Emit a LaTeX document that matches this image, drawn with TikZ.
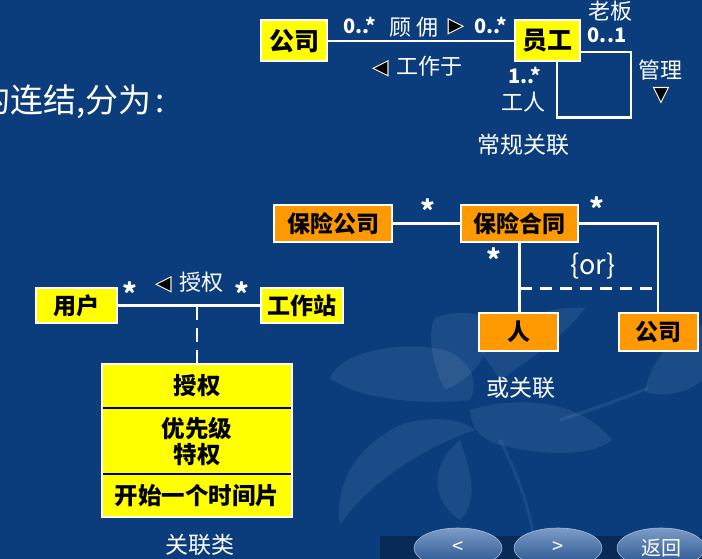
\documentclass[tikz,border=0pt]{standalone}
\usepackage{fontspec}
\setmainfont{Noto Sans CJK SC}
\newfontfamily\symfont{DejaVu Sans}
\usetikzlibrary{calc,shapes.geometric}

\definecolor{slide}{HTML}{0B3D7D}
\definecolor{boxyellow}{HTML}{FFFF00}
\definecolor{boxorange}{HTML}{FF9900}
\definecolor{petal}{HTML}{9DB9D6}
\definecolor{btntop}{HTML}{7C9CC8}
\definecolor{btnbot}{HTML}{23508C}

% outlined triangles: black body, thin white rim
\newcommand\triR{{\symfont\rlap{\color{black}▶}\color{white}▷}}
\newcommand\triL{{\symfont\rlap{\color{black}◀}\color{white}◁}}
\newcommand\triD{{\symfont\rlap{\color{black}▼}\color{white}▽}}

\tikzset{
  x=1pt, y=-1pt,
  box/.style={draw=white, line width=2pt, inner sep=0pt, text=black,
              font=\bfseries\fontsize{23}{25}\selectfont},
  ybox/.style={box, fill=boxyellow},
  obox/.style={box, fill=boxorange},
  bigbox/.style={font=\bfseries\fontsize{25}{27}\selectfont},
  clspart/.style={fill=boxyellow, inner sep=0pt, minimum width=190pt, text=black,
              align=center, font=\bfseries\fontsize{23.5}{26}\selectfont},
  conn/.style={draw=white, line width=2.6pt},
  dashconn/.style={conn, dash pattern=on 14pt off 8pt},
  lbl/.style={text=white, inner sep=0pt, font=\fontsize{22}{24}\selectfont},
  num/.style={text=white, inner sep=0pt, font=\bfseries\fontsize{20}{22}\selectfont},
  caption/.style={text=white, inner sep=0pt, font=\fontsize{23}{25}\selectfont},
  mult/.style={text=white, inner sep=0pt, font=\bfseries\fontsize{28}{28}\selectfont},
  petalfill/.style={fill=petal, fill opacity=0.12, draw=none},
  navbtn/.style={ellipse, minimum width=88pt, minimum height=40pt, inner sep=0pt,
              top color=btntop, bottom color=btnbot, draw=btntop!70!white,
              line width=0.6pt, text=white, font=\fontsize{20}{20}\selectfont},
}

\begin{document}
\begin{tikzpicture}
\useasboundingbox (0,0) rectangle (702,559);
\clip (0,0) rectangle (702,559);

% slide background
\fill[slide] (0,0) rectangle (702,559);
\fill[black!60!slide, opacity=0.5] (380,536) rectangle (702,559);

% faint lily in the background
\path[petalfill] (470,400) .. controls (420,405) and (360,400) .. (330,378)
  .. controls (340,352) and (400,340) .. (445,350) .. controls (470,360) and (480,380) .. cycle;
\path[petalfill] (445,390) .. controls (430,360) and (428,330) .. (435,318)
  .. controls (455,310) and (478,312) .. (490,320) .. controls (490,350) and (480,375) .. cycle;
\path[petalfill] (480,350) .. controls (510,320) and (550,305) .. (585,308)
  .. controls (570,330) and (530,360) .. (500,380) -- cycle;
\path[petalfill] (475,430) .. controls (430,445) and (370,480) .. (340,525)
  .. controls (335,490) and (350,450) .. (400,425) .. controls (430,415) and (460,418) .. cycle;
\path[petalfill] (470,410) .. controls (520,395) and (580,400) .. (612,440)
  .. controls (590,458) and (540,455) .. (500,445) .. controls (480,440) and (470,425) .. cycle;
\path[petalfill] (460,440) .. controls (470,470) and (480,500) .. (460,520)
  .. controls (430,500) and (430,465) .. cycle;
\path[petalfill] (645,392) .. controls (650,360) and (675,335) .. (702,325)
  -- (702,380) .. controls (690,392) and (665,398) .. cycle;
\draw[petal, opacity=0.12, line width=3pt] (560,420) .. controls (590,410) and (620,400) .. (648,388);
\draw[petal, opacity=0.10, line width=3pt] (500,440) .. controls (520,480) and (530,510) .. (535,545);

% ---------- ordinary association ----------
\node[ybox, bigbox, minimum width=66pt, minimum height=41pt] (gs) at (294,41) {公司};
\node[ybox, bigbox, minimum width=65pt, minimum height=41pt] (yg) at (547.5,41) {员工};
\draw[conn] (gs.east) -- (yg.west);
\draw[conn] ([xshift=9.5pt]yg.south) -- ++(0,55) -- ++(74,0) |- ([yshift=-11pt]yg.east);

\node[num] (hirel) at (360,25) {0..*};
\node[lbl] (hire) at (414,27) {顾\hspace{6pt}佣};
\node[lbl] (hiretri) at (456,27) {\triR};
\node[num] (hirer) at (491,25) {0..*};
\node[lbl] (workfor) at (417,67) {\triL\,\,工作于};
\node[lbl] (boss) at (610,11) {老板};
\node[num] (bossm) at (607,35) {0..1};
\node[lbl] (manage) at (660,70) {管理};
\node[lbl] (managetri) at (661,96) {\triD};
\node[num] (workerm) at (525,75) {1..*};
\node[lbl] (worker) at (523,102) {工人};
\node[caption] (cap1) at (523,145) {常规关联};

% heading fragment
\node[text=white, inner sep=0pt, anchor=west, font=\fontsize{33}{35}\selectfont] (head) at (-23,102) {的连结,分为\hspace{4pt}:};

% ---------- or association ----------
\node[obox, minimum width=118pt, minimum height=37pt] (bxgs) at (333,223.5) {保险公司};
\node[obox, minimum width=117pt, minimum height=37pt] (bxht) at (519.5,223.5) {保险合同};
\node[obox, minimum width=79pt, minimum height=38pt] (ren) at (518.5,332) {人};
\node[obox, minimum width=79pt, minimum height=38pt] (gs2) at (658,332) {公司};
\draw[conn] (bxgs.east) -- (bxht.west);
\draw[conn] (bxht.east) -| (gs2.north);
\draw[conn] (bxht.south) -- (bxht.south |- ren.north);
\coordinate (orl) at ($(bxht.south)!0.66!(bxht.south |- ren.north)$);
\coordinate (orr) at (gs2.north |- orl);
\draw[dashconn, dash pattern=on 12pt off 8pt] (orl) -- (orr);

\node[mult] (m1) at (428,210) {*};
\node[mult] (m2) at (597,208) {*};
\node[mult] (m3) at (494,259) {*};
\node[lbl, font=\fontsize{27}{29}\selectfont] (orlbl) at (593,266) {\{or\}};
\node[caption] (cap2) at (521,388) {或关联};

% ---------- association class ----------
\node[ybox, minimum width=81pt, minimum height=35pt] (yh) at (76.5,305.5) {用户};
\node[ybox, minimum width=82pt, minimum height=35pt] (gzz) at (302,305.5) {工作站};
\draw[conn] (yh.east) -- (gzz.west);
\node[mult] (m4) at (130,293) {*};
\node[mult] (m5) at (242,293) {*};
\node[lbl] (auth) at (189,283) {\triL\,\,授权};

\node[clspart, minimum height=44pt] (clstop) at (197,386) {授权};
\node[clspart, minimum height=66pt] (clsmid) at (197,441) {优先级\\特权};
\node[clspart, minimum height=43pt] (clsbot) at (197,495.5) {开始一个时间片};
\draw[black, line width=2pt] (clstop.south west) -- (clstop.south east);
\draw[black, line width=2pt] (clsmid.south west) -- (clsmid.south east);
\draw[white, line width=2pt] (clstop.north west) rectangle (clsbot.south east);
\draw[dashconn] (clstop.north |- yh.east) -- (clstop.north);
\node[caption] (cap3) at (200,545) {关联类};

% ---------- navigation buttons ----------
\node[navbtn] (prev) at (458,548) {<};
\node[navbtn] (next) at (558,548) {>};
\node[navbtn] (back) at (661,548) {返回};
\end{tikzpicture}
\end{document}
